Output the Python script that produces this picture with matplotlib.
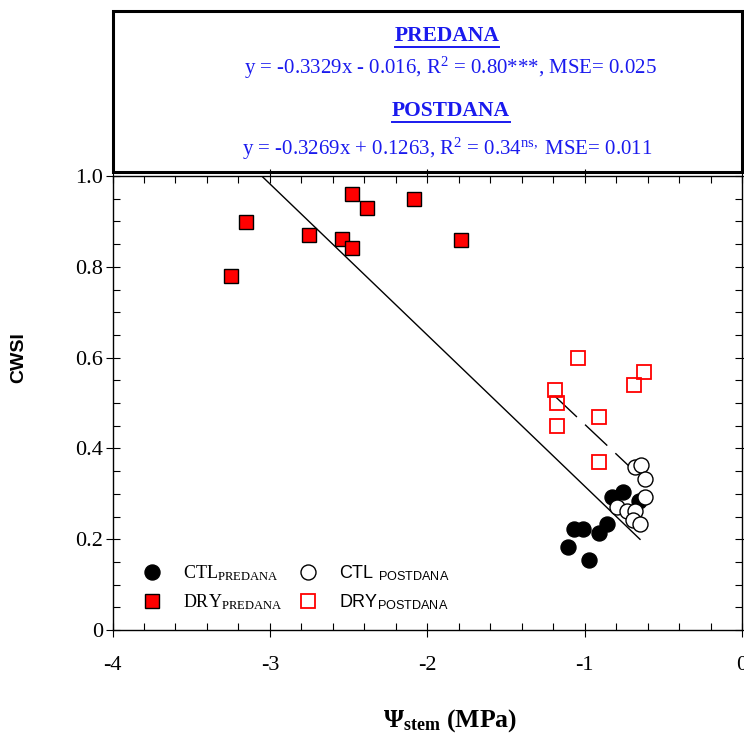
import matplotlib
matplotlib.use("Agg")
import matplotlib.pyplot as plt
from matplotlib.lines import Line2D
from matplotlib.patches import Rectangle
from matplotlib.ticker import MultipleLocator, FixedLocator, FixedFormatter
import numpy as np

plt.rcParams['font.family'] = ['Liberation Serif', 'DejaVu Serif']
plt.rcParams['axes.unicode_minus'] = False
plt.rcParams['mathtext.fontset'] = 'custom'
plt.rcParams['mathtext.rm'] = 'Liberation Serif'
plt.rcParams['mathtext.bf'] = 'Liberation Serif:bold'
plt.rcParams['mathtext.it'] = 'Liberation Serif:italic'

# ---- data (Psi_stem MPa, CWSI) ----
ctl_pre_x = [-1.108, -1.065, -1.012, -0.970, -0.906, -0.857, -0.828, -0.754, -0.657]
ctl_pre_y = [0.182, 0.222, 0.222, 0.154, 0.214, 0.233, 0.294, 0.303, 0.285]

ctl_post_x = [-0.678, -0.642, -0.617, -0.617, -0.794, -0.733, -0.678, -0.695, -0.648]
ctl_post_y = [0.360, 0.363, 0.332, 0.294, 0.272, 0.262, 0.262, 0.242, 0.233]

dry_pre_x = [-3.247, -3.151, -2.750, -2.539, -2.480, -2.480, -2.381, -2.083, -1.783]
dry_pre_y = [0.780, 0.899, 0.870, 0.861, 0.841, 0.960, 0.929, 0.949, 0.859]

dry_post_x = [-1.043, -0.625, -0.684, -1.191, -1.174, -0.906, -1.174, -0.906]
dry_post_y = [0.600, 0.569, 0.540, 0.529, 0.499, 0.470, 0.449, 0.371]

# regression lines
pre_slope, pre_int = -0.3329, -0.016
post_slope, post_int = -0.3269, 0.1263
pre_xrange = [-3.25, -0.648]
post_xrange = [-1.19, -0.625]

xticks = [-4, -3, -2, -1, 0]
xticklabels = ['-4', '-3', '-2', '-1', '0']
yticks = [0, 0.2, 0.4, 0.6, 0.8, 1.0]
yticklabels = ['0', '0.2', '0.4', '0.6', '0.8', '1.0']

W, H = 744, 735
fig = plt.figure(figsize=(W / 100, H / 100), dpi=100)

def fx(px):
    return px / W

def fy(py):
    return 1 - py / H

ax = fig.add_axes([fx(112.5), fy(630), fx(742) - fx(112.5), fy(176) - fy(630)])
ax.set_xlim(-4, 0)
ax.set_ylim(0, 1.0)

# lines
xl = np.array(pre_xrange)
ax.plot(xl, pre_slope * xl + pre_int, color='black', lw=1.0, zorder=2)
xp = np.array(post_xrange)
ax.plot(xp, post_slope * xp + post_int, color='black', lw=1.0, dashes=(22, 8), zorder=2)

ms_c = 10.8
ms_s = 9.8
ax.plot(dry_pre_x, dry_pre_y, 's', ms=ms_s, mfc='#ff0000', mec='black', mew=1.0, zorder=3)
ax.plot(dry_post_x, dry_post_y, 's', ms=ms_s, mfc='none', mec='#ff0000', mew=1.3, zorder=3)
ax.plot(ctl_pre_x, ctl_pre_y, 'o', ms=ms_c, mfc='black', mec='black', mew=1.0, zorder=4)
ax.plot(ctl_post_x, ctl_post_y, 'o', ms=ms_c, mfc='white', mec='black', mew=1.0, zorder=5)

# ticks
ax.xaxis.set_major_locator(FixedLocator(xticks))
ax.xaxis.set_major_formatter(FixedFormatter(xticklabels))
ax.yaxis.set_major_locator(FixedLocator(yticks))
ax.yaxis.set_major_formatter(FixedFormatter(yticklabels))
ax.xaxis.set_minor_locator(MultipleLocator(0.2))
ax.yaxis.set_minor_locator(MultipleLocator(0.05))
ax.tick_params(which='both', top=True, right=True, width=0.8, color='black')
ax.tick_params(which='major', direction='inout', length=10, labelsize=16)
ax.tick_params(which='minor', direction='in', length=5)
ax.tick_params(axis='x', which='major', pad=14)
ax.tick_params(axis='y', which='major', pad=2)
for s in ax.spines.values():
    s.set_linewidth(1.0)

fig.text(fx(19), fy(358), 'CWSI', rotation=90, ha='center', va='center',
         family=['Liberation Sans', 'DejaVu Sans'], weight='bold', fontsize=14)
fig.text(fx(450), fy(727), r'$\mathbf{\Psi}_{\mathbf{stem}}$ (MPa)', ha='center', va='baseline',
         fontsize=18.5, weight='bold')

# legend
handles = [
    Line2D([], [], ls='none', marker='o', ms=ms_c, mfc='black', mec='black'),
    Line2D([], [], ls='none', marker='s', ms=ms_s, mfc='#ff0000', mec='black'),
    Line2D([], [], ls='none', marker='o', ms=ms_c, mfc='white', mec='black'),
    Line2D([], [], ls='none', marker='s', ms=ms_s, mfc='none', mec='#ff0000', mew=1.3),
]
labels = [r'CTL$_{\mathdefault{PREDANA}}$', r'DRY$_{\mathdefault{PREDANA}}$',
          r'CTL $_{\mathdefault{POSTDANA}}$', r'DRY$_{\mathdefault{POSTDANA}}$']
leg = ax.legend(handles, labels, ncol=2, loc='center left', bbox_to_anchor=(0.049, 0.094),
                frameon=False, fontsize=13, handlelength=1.0, handletextpad=1.2,
                columnspacing=0.93, labelspacing=0.52, borderpad=0, borderaxespad=0)
for t in leg.get_texts()[2:]:
    t.set_fontfamily(['Liberation Sans', 'DejaVu Sans'])

# box with equations
box = Rectangle((fx(112.5), fy(172)), fx(742) - fx(112.5), fy(11) - fy(172),
                transform=fig.transFigure, fill=False, lw=2.2, edgecolor='black')
fig.add_artist(box)
blue = '#1a1aee'
t1 = fig.text(fx(447), fy(36), 'PREDANA', ha='center', va='center', color=blue,
              weight='bold', fontsize=15.5)
fig.text(fx(450), fy(68), r'y = -0.3329x - 0.016, R$^{\mathdefault{2}}$ = 0.80***, MSE= 0.025',
         ha='center', va='center', color=blue, fontsize=15)
t2 = fig.text(fx(451), fy(111), 'POSTDANA', ha='center', va='center', color=blue,
              weight='bold', fontsize=15.5)
fig.text(fx(447), fy(149), r'y = -0.3269x + 0.1263, R$^{\mathdefault{2}}$ = 0.34$^{\mathdefault{ns,}}$ MSE= 0.011',
         ha='center', va='center', color=blue, fontsize=15)

fig.canvas.draw()
r = fig.canvas.get_renderer()
for t in (t1, t2):
    bb = t.get_window_extent(r)
    yline = bb.y0 - 1
    fig.add_artist(Line2D([bb.x0 / W, bb.x1 / W], [yline / H, yline / H],
                          transform=fig.transFigure, color=blue, lw=1.4))

fig.savefig('out.png', dpi=100)
